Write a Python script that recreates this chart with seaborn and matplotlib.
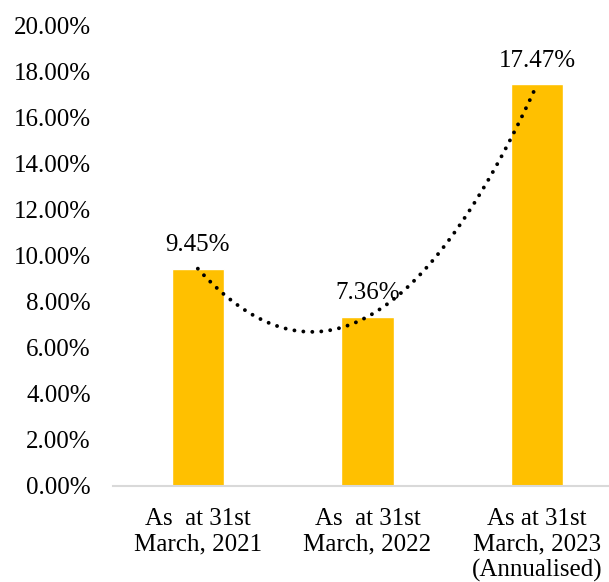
import numpy as np
import pandas as pd
import matplotlib
matplotlib.use("Agg")
import matplotlib.pyplot as plt
import seaborn as sns

categories = ["As  at 31st\nMarch, 2021", "As  at 31st\nMarch, 2022", "As at 31st\nMarch, 2023\n(Annualised)"]
values = [9.45, 7.36, 17.47]
value_labels = ["9.45%", "7.36%", "17.47%"]
yticks = [0, 2, 4, 6, 8, 10, 12, 14, 16, 18, 20]

sns.set_theme(style="white")
plt.rcParams["font.family"] = ["Liberation Serif", "DejaVu Serif"]

df = pd.DataFrame({"cat": categories, "val": values})

fig = plt.figure(figsize=(6.09, 5.82), dpi=100)
ax = fig.add_axes([113/609, 96/582, 509/609, 460/582])

sns.barplot(data=df, x="cat", y="val", color="#FFC000", width=0.31, saturation=1, ax=ax)

# polynomial (order 2) trendline
xs = np.arange(len(values))
coef = np.polyfit(xs, values, 2)
xf = np.linspace(0, len(values) - 1, 200)
ax.plot(xf, np.polyval(coef, xf), color="black", linewidth=2.8,
        linestyle=(0, (0.01, 2.3)), dash_capstyle="round")

for i, (v, lab) in enumerate(zip(values, value_labels)):
    ax.annotate(lab, (i, v), xytext=(0, 9), textcoords="offset points",
                ha="center", va="bottom", fontsize=18, color="black")

ax.set_xlim(-0.5, 2.5)
ax.set_ylim(0, 20)
ax.set_yticks(yticks)
ax.set_yticklabels([f"{t:.2f}%" for t in yticks])
ax.set_xlabel("")
ax.set_ylabel("")
ax.tick_params(axis="y", length=0, pad=16, labelsize=18, colors="black")
ax.tick_params(axis="x", length=0, pad=16, labelsize=18, colors="black")
for lab in ax.get_xticklabels():
    lab.set_linespacing(1.2)
for s in ["top", "right", "left"]:
    ax.spines[s].set_visible(False)
ax.spines["bottom"].set_color("#D9D9D9")
ax.spines["bottom"].set_linewidth(1.5)
ax.grid(False)

fig.savefig("out.png", dpi=100)
